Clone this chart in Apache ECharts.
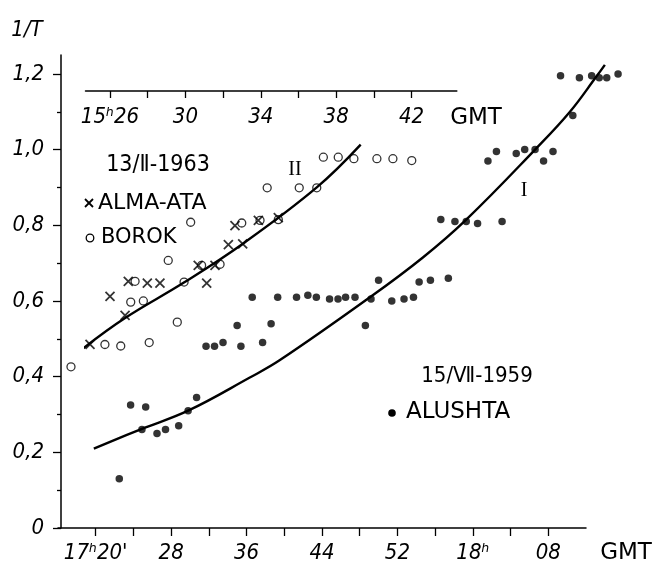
<!DOCTYPE html>
<html>
<head>
<meta charset="utf-8">
<script src="https://cdn.jsdelivr.net/npm/echarts@6/dist/echarts.min.js"></script>
<style>html,body{margin:0;padding:0;background:#fff}#c{width:656px;height:579px}</style>
</head>
<body>
<div id="c"></div>
<script>
// ---- data (minutes after the hour, 1/T) ----
// Series I: ALUSHTA 15/VII-1959, bottom time scale (minutes after 17h)
const alushtaMin = [22.5,23.7,24.9,25.3,26.5,27.4,28.8,29.8,30.7,31.7,32.6,33.5,35.0,35.4,36.6,37.7,38.6,39.3,41.3,42.5,43.4,44.8,45.7,46.5,47.5,48.6,49.2,50.0,51.4,52.7,53.7,54.3,55.5,57.4,56.6,58.1,59.3,60.5,63.1,61.6,62.5,64.6,65.5,66.6,67.5,68.5,70.6,69.3,71.3,72.6,73.4,74.2,75.4];
const alushtaVal = [0.13,0.325,0.26,0.32,0.25,0.26,0.27,0.31,0.345,0.48,0.48,0.49,0.535,0.48,0.61,0.49,0.54,0.61,0.61,0.615,0.61,0.605,0.605,0.61,0.61,0.535,0.605,0.655,0.60,0.605,0.61,0.65,0.655,0.66,0.815,0.81,0.81,0.805,0.81,0.97,0.995,0.99,1.0,1.0,0.97,0.995,1.09,1.195,1.19,1.195,1.19,1.19,1.2];
const curveIMin = [19.8,24.9,29.8,36.3,39.5,49.1,54.7,59.3,66.6,70.3,73.1,74.0];
const curveIVal = [0.21,0.262,0.31,0.397,0.443,0.61,0.715,0.815,1.0,1.1,1.193,1.224];
// Series II: 13/II-1963, top time scale (minutes after 15h)
const almaAtaMin = [24.94,26.0,26.8,26.97,27.98,28.65,30.68,31.13,31.57,32.28,33.04,32.63,33.87,34.93];
const almaAtaVal = [0.485,0.612,0.562,0.652,0.647,0.647,0.694,0.647,0.694,0.749,0.751,0.799,0.813,0.82];
const borokMin = [23.93,25.73,26.57,28.08,27.1,27.77,27.33,29.09,29.57,29.93,30.86,31.84,32.99,33.96,34.93,30.28,34.34,36.04,36.97,37.32,38.11,38.94,40.16,41.01,42.01];
const borokVal = [0.426,0.485,0.481,0.49,0.597,0.6,0.652,0.707,0.544,0.65,0.694,0.697,0.806,0.813,0.815,0.808,0.899,0.899,0.899,0.98,0.98,0.976,0.976,0.976,0.971];
const curveIIMin = [24.5,26.8,29.9,33.07,36.97,39.3];
const curveIIVal = [0.472,0.555,0.648,0.752,0.9,1.013];

// ---- ticks and labels ----
const yMajorTicks = [0,0.2,0.4,0.6,0.8,1.0,1.2];
const yMajorLabels = ['0','0,2','0,4','0,6','0,8','1,0','1,2'];
const yMinorTicks = [0.1,0.3,0.5,0.7,0.9,1.1];
const bottomTicks = [20,24,28,32,36,40,44,48,52,56,60,64,68];
const bottomLabelValues = [20,28,36,44,52,60,68];
const bottomLabelTexts = ["17ʰ20'",'28','36','44','52','18ʰ','08'];
const topTicks = [26,28,30,32,34,36,38,40,42];
const topLabelValues = [26,30,34,38,42];
const topLabelTexts = ['15ʰ26','30','34','38','42'];

const zip = (a,b) => a.map((v,i)=>[v,b[i]]);
const NUMFONT = "'DejaVu Sans Condensed','Liberation Sans Narrow','DejaVu Sans',sans-serif";
const TXTFONT = "'DejaVu Sans','Liberation Sans',sans-serif";

const chart = echarts.init(document.getElementById('c'), null, {renderer:'canvas'});
const lbl = (vals, texts) => (v => { const i = vals.findIndex(x=>Math.abs(x-v)<1e-6); return i>=0?texts[i]:''; });

function txt(x, y, text, size, opts) {
  opts = opts || {};
  return {type:'text', x:x, y:y, silent:true, style:{text:text, fontSize:size,
    fontFamily: opts.family || TXTFONT, fontStyle: opts.italic?'italic':'normal',
    fill:'#000', align: opts.align||'center', textAlign: opts.align||'center',
    verticalAlign:'middle', textVerticalAlign:'middle'}};
}

const PX_PER_MIN = 528/56;          // bottom scale
const CURVE_GRID_MAX = 78;           // hidden axis range for curve I

chart.setOption({
  animation:false,
  backgroundColor:'#fff',
  grid:[
    {left:58, top:55, width:528, height:473, outerBoundsMode:'none', containLabel:false},
    {left:85.5, top:91, width:371.3, height:437, outerBoundsMode:'none', containLabel:false},
    {left:58, top:55, width:(CURVE_GRID_MAX-16)*PX_PER_MIN, height:473, outerBoundsMode:'none', containLabel:false}
  ],
  xAxis:[
    {type:'value', gridIndex:0, min:16, max:72, position:'bottom',
     axisLine:{show:true, onZero:false, lineStyle:{color:'#000', width:1.5}},
     axisTick:{show:true, inside:false, length:8, lineStyle:{color:'#000', width:1.3}, customValues:bottomTicks},
     axisLabel:{show:true, margin:14, color:'#000', fontSize:22, fontStyle:'italic', fontFamily:NUMFONT,
       customValues:bottomLabelValues, formatter:lbl(bottomLabelValues,bottomLabelTexts)},
     splitLine:{show:false}},
    {type:'value', gridIndex:1, min:24.7, max:44.4, position:'top',
     axisLine:{show:true, onZero:false, lineStyle:{color:'#000', width:1.5}},
     axisTick:{show:true, inside:true, length:7, lineStyle:{color:'#000', width:1.3}, customValues:topTicks},
     axisLabel:{show:true, inside:true, margin:15, color:'#000', fontSize:22, fontStyle:'italic', fontFamily:NUMFONT,
       customValues:topLabelValues, formatter:lbl(topLabelValues,topLabelTexts)},
     splitLine:{show:false}},
    {type:'value', gridIndex:2, min:16, max:CURVE_GRID_MAX, show:false,
     axisLine:{show:false}, axisTick:{show:false}, axisLabel:{show:false}, splitLine:{show:false}}
  ],
  yAxis:[
    {type:'value', gridIndex:0, min:0, max:1.25, position:'left', offset:-3,
     axisLine:{show:true, onZero:false, lineStyle:{color:'#000', width:1.5}},
     axisTick:{show:true, length:8, lineStyle:{color:'#000', width:1.3}, customValues:yMajorTicks},
     axisLabel:{show:true, margin:17, color:'#000', fontSize:22, fontStyle:'italic', fontFamily:NUMFONT,
       customValues:yMajorTicks, formatter:lbl(yMajorTicks,yMajorLabels)},
     splitLine:{show:false}},
    {type:'value', gridIndex:0, min:0, max:1.25, position:'left', offset:-3,
     axisLine:{show:false},
     axisTick:{show:true, length:4, lineStyle:{color:'#000', width:1.3}, customValues:yMinorTicks},
     axisLabel:{show:false}, splitLine:{show:false}},
    {type:'value', gridIndex:1, min:0, max:437/(473/1.25), show:false,
     axisLine:{show:false}, axisTick:{show:false}, axisLabel:{show:false}, splitLine:{show:false}},
    {type:'value', gridIndex:2, min:0, max:1.25, show:false,
     axisLine:{show:false}, axisTick:{show:false}, axisLabel:{show:false}, splitLine:{show:false}}
  ],
  series:[
    {name:'Curve I', type:'line', xAxisIndex:2, yAxisIndex:3, data:zip(curveIMin,curveIVal),
     smooth:0.4, showSymbol:false, clip:false, lineStyle:{color:'#000', width:2.4}},
    {name:'ALUSHTA', type:'scatter', xAxisIndex:0, yAxisIndex:0, data:zip(alushtaMin,alushtaVal),
     symbol:'circle', symbolSize:7.5, clip:false, itemStyle:{color:'#000'}},
    {name:'Curve II', type:'line', xAxisIndex:1, yAxisIndex:2, data:zip(curveIIMin,curveIIVal),
     smooth:0.4, showSymbol:false, clip:false, lineStyle:{color:'#000', width:2.4}},
    {name:'BOROK', type:'scatter', xAxisIndex:1, yAxisIndex:2, data:zip(borokMin,borokVal),
     symbol:'circle', symbolSize:8, clip:false, itemStyle:{color:'rgba(255,255,255,0)', borderColor:'#000', borderWidth:1.3}},
    {name:'ALMA-ATA', type:'scatter', xAxisIndex:1, yAxisIndex:2, data:zip(almaAtaMin,almaAtaVal),
     symbol:'path://M0 0L10 10M10 0L0 10', symbolSize:9, clip:false,
     itemStyle:{color:'rgba(0,0,0,0)', borderColor:'#000', borderWidth:1.8}}
  ],
  graphic:[
    txt(27, 30, '1/T', 22, {italic:true, family:NUMFONT}),
    txt(626, 553, 'GMT', 23),
    txt(476, 118, 'GMT', 23),
    txt(158, 165, '13/Ⅱ-1963', 23, {family:NUMFONT}),
    // legend markers
    {type:'polyline', silent:true, shape:{points:[[85,199],[93,207]]}, style:{stroke:'#000', lineWidth:1.8}},
    {type:'polyline', silent:true, shape:{points:[[93,199],[85,207]]}, style:{stroke:'#000', lineWidth:1.8}},
    {type:'circle', silent:true, shape:{cx:90, cy:238, r:3.8}, style:{fill:'none', stroke:'#000', lineWidth:1.3}},
    {type:'circle', silent:true, shape:{cx:392, cy:413, r:3.8}, style:{fill:'#000'}},
    txt(98, 203, 'ALMA-ATA', 22, {align:'left'}),
    txt(101, 238, 'BOROK', 21, {align:'left'}),
    txt(295, 170, 'II', 20, {family:"'Liberation Serif','DejaVu Serif',serif"}),
    txt(524, 191, 'I', 20, {family:"'Liberation Serif','DejaVu Serif',serif"}),
    txt(477, 376, '15/Ⅶ-1959', 22, {family:NUMFONT}),
    txt(406, 412, 'ALUSHTA', 23, {align:'left'})
  ]
});
</script>
</body>
</html>
